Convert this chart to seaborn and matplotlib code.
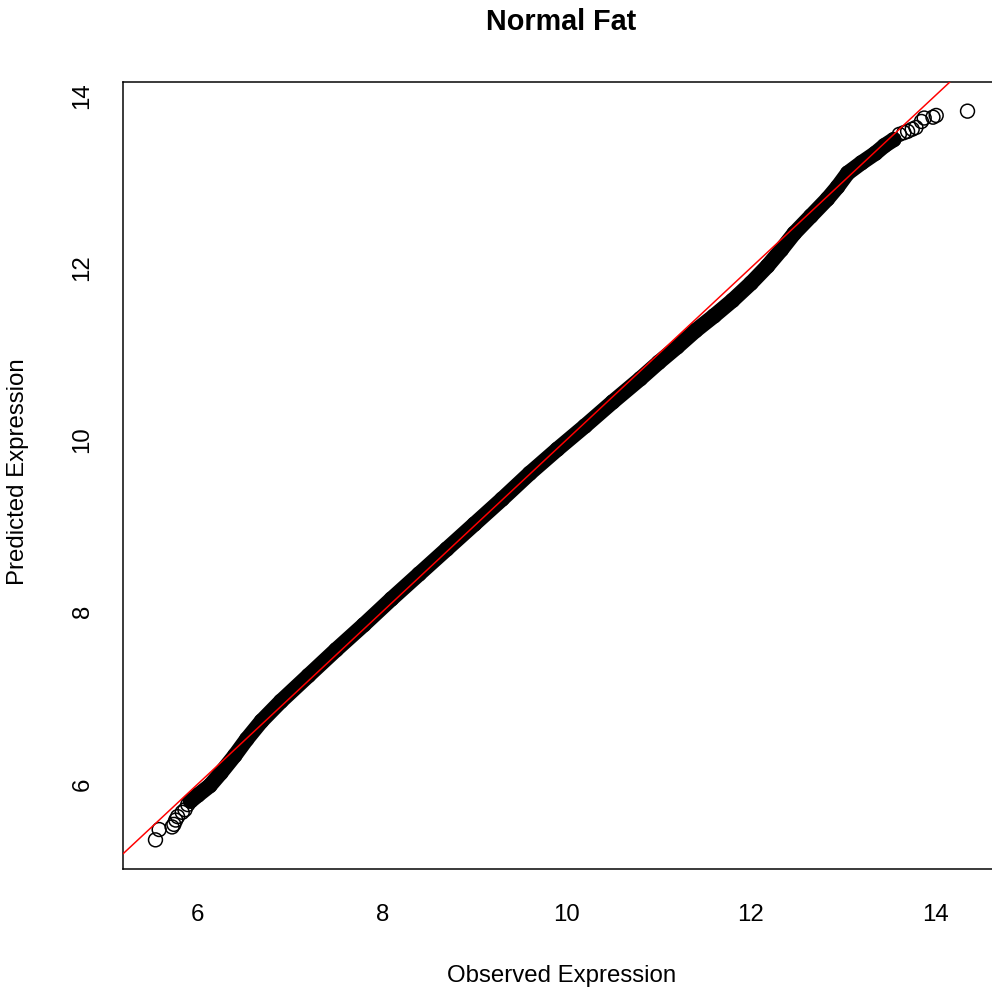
import numpy as np
import pandas as pd
import matplotlib
matplotlib.use("Agg")
import matplotlib.pyplot as plt
import seaborn as sns

# ---- data (Observed vs Predicted expression quantiles) ----
band_observed = [5.92, 6.00, 6.13, 6.25, 6.40, 6.53, 6.69, 6.90, 7.20, 7.50, 7.80, 8.10,
                 8.40, 8.70, 9.00, 9.30, 9.60, 9.90, 10.20, 10.50, 10.80, 11.00, 11.20,
                 11.40, 11.60, 11.80, 12.00, 12.18, 12.33, 12.47, 12.65, 12.83, 12.94,
                 13.05, 13.20, 13.35, 13.45, 13.55]
band_predicted = [5.80, 5.87, 5.98, 6.13, 6.33, 6.52, 6.73, 6.96, 7.26, 7.56, 7.85, 8.15,
                  8.44, 8.73, 9.02, 9.31, 9.61, 9.89, 10.16, 10.44, 10.71, 10.90, 11.08,
                  11.27, 11.44, 11.62, 11.82, 12.02, 12.21, 12.40, 12.60, 12.80, 12.94,
                  13.10, 13.22, 13.33, 13.42, 13.49]
low_tail_observed = [5.54, 5.58, 5.72, 5.74, 5.76, 5.78, 5.83, 5.86, 5.89]
low_tail_predicted = [5.35, 5.47, 5.50, 5.53, 5.58, 5.62, 5.67, 5.70, 5.76]
high_tail_observed = [13.61, 13.66, 13.70, 13.75, 13.79, 13.85, 13.88, 13.975, 14.01, 14.35]
high_tail_predicted = [13.55, 13.57, 13.585, 13.61, 13.63, 13.70, 13.74, 13.75, 13.77, 13.82]
x_ticks = [6, 8, 10, 12, 14]
y_ticks = [6, 8, 10, 12, 14]
title = "Normal Fat"
x_label = "Observed Expression"
y_label = "Predicted Expression"

band = pd.DataFrame({"observed": band_observed, "predicted": band_predicted})
points = pd.DataFrame({
    "observed": low_tail_observed + band_observed + high_tail_observed,
    "predicted": low_tail_predicted + band_predicted + high_tail_predicted,
})

sns.set_style("white")
plt.rcParams["font.family"] = ["Liberation Sans", "DejaVu Sans"]

W, H = 992, 991
fig = plt.figure(figsize=(W / 100, H / 100), dpi=100)
# plot region in pixels: left 123, right ~1000 (beyond the image edge), top 82, bottom 869
ax = fig.add_axes([123 / W, 1 - 869 / H, (1000 - 123) / W, (869 - 82) / H])

lw = 1.08
# dense run of overlapping circles -> thick black band
sns.lineplot(data=band, x="observed", y="predicted", sort=False, estimator=None,
             color="black", linewidth=11, solid_capstyle="round",
             solid_joinstyle="round", ax=ax)
sns.scatterplot(data=points, x="observed", y="predicted", marker="o", s=100,
                facecolor="none", edgecolor="black", linewidth=lw, ax=ax, zorder=3)

ax.axline((0, 0), slope=1, color="red", linewidth=lw, zorder=4)

# R-style 4% axis extension
allx = np.array(points["observed"])
ally = np.array(points["predicted"])
rx = allx.max() - allx.min()
ry = ally.max() - ally.min()
ax.set_xlim(allx.min() - 0.04 * rx, allx.max() + 0.04 * rx)
ax.set_ylim(ally.min() - 0.04 * ry, ally.max() + 0.04 * ry)

ax.set_xticks(x_ticks)
ax.set_yticks(y_ticks)
ax.set_xticklabels([str(t) for t in x_ticks])
ax.set_yticklabels([str(t) for t in y_ticks], rotation=90, va="center")

ax.tick_params(axis="both", direction="out", length=10.4, width=lw, color="black",
               labelsize=17.3, labelcolor="black")
ax.tick_params(axis="x", pad=15)
ax.tick_params(axis="y", pad=10.8)
for side in ["left", "bottom", "top", "right"]:
    ax.spines[side].set_visible(True)
    ax.spines[side].set_color("black")
    ax.spines[side].set_linewidth(lw)

ax.set_xlabel(x_label, fontsize=17.3, color="black")
ax.set_ylabel(y_label, fontsize=17.3, color="black")
axw = 1000 - 123
axh = 869 - 82
ax.xaxis.set_label_coords((561.5 - 123) / axw, -(965 - 869) / axh)
ax.yaxis.set_label_coords(-(123 - 29.5) / axw, (869 - 472) / axh)

ax.set_title(title, fontsize=20.7, fontweight="bold", pad=37.4, color="black")
ax.grid(False)

fig.savefig("out.png", dpi=100)
